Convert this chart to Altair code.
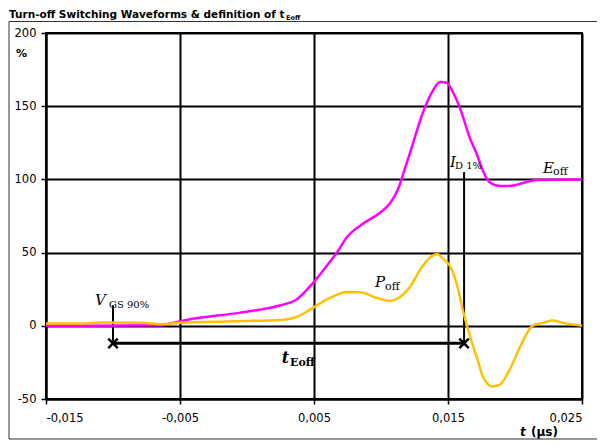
import altair as alt
import pandas as pd

# ---- data ----
# E_off curve (magenta), time in µs, value in %
e_t = [-0.015, -0.0065, -0.0055, -0.0045, -0.0005, 0.0025, 0.0037, 0.0049, 0.0057,
       0.0067, 0.0075, 0.0087, 0.0099, 0.0107, 0.0113, 0.0117, 0.0124, 0.0131,
       0.0139, 0.0144, 0.0149, 0.0154, 0.0160, 0.0166, 0.0172, 0.0176, 0.0181,
       0.0189, 0.0196, 0.0206, 0.0216, 0.025]
e_v = [0, 0.3, 2, 4, 9, 14, 18, 29, 38,
       50, 61, 70, 77, 84, 94, 105, 125, 145,
       161, 166.5, 166, 159, 146, 129, 116, 106, 98,
       95.5, 95.5, 97.5, 99.6, 100]

# P_off curve (yellow)
p_t = [-0.015, -0.0125, -0.0108, -0.0078, -0.0065, -0.005, -0.0015, 0.0025, 0.0037,
       0.0047, 0.0054, 0.0062, 0.0074, 0.0084, 0.0097, 0.0107, 0.0113, 0.0122,
       0.0129, 0.0137, 0.0142, 0.0146, 0.0152, 0.0157, 0.0161, 0.0165, 0.0172,
       0.0176, 0.0183, 0.0189, 0.0196, 0.0204, 0.0213, 0.0221, 0.0228, 0.0236, 0.025]
p_v = [1.5, 1.5, 2.3, 2, 1, 2, 3, 4, 6,
       11, 15, 19, 23, 23, 19, 17, 19, 27,
       38, 47, 49, 46, 40, 27, 11, -2.7, -23,
       -34.5, -41.5, -40, -30, -14, 0, 2, 3.6, 2, 0]

x_ticks = [-0.015, -0.005, 0.005, 0.015, 0.025]
y_ticks = [-50, 0, 50, 100, 150, 200]

# annotation anchors (µs, %)
t_vgs = -0.0100
t_id = 0.0162
v_bar = -12
v_vgs_top = 14
v_id_top = 105

MAG = "#FF00FF"
YEL = "#FFC000"

curves = pd.concat([
    pd.DataFrame({"t": e_t, "v": e_v, "s": "E_off"}),
    pd.DataFrame({"t": p_t, "v": p_v, "s": "P_off"}),
])

xs = alt.Scale(domain=[-0.015, 0.025], nice=False, zero=False)
ys = alt.Scale(domain=[-50, 200], nice=False, zero=False)

x_axis = alt.Axis(values=x_ticks, title=None, grid=True, labelPadding=8,
                  labelExpr="(datum.value < 0 ? '-' : '') + replace(format(abs(datum.value), '.3f'), '.', ',')")
y_axis = alt.Axis(values=y_ticks, title=None, grid=True, labelPadding=5,
                  labelExpr="datum.value < 0 ? '-' + format(-datum.value, 'd') : format(datum.value, 'd')")

lines = alt.Chart(curves).mark_line(strokeWidth=2.5, interpolate="monotone").encode(
    x=alt.X("t:Q", scale=xs, axis=x_axis),
    y=alt.Y("v:Q", scale=ys, axis=y_axis),
    color=alt.Color("s:N", scale=alt.Scale(domain=["E_off", "P_off"], range=[MAG, YEL]), legend=None),
)

one = pd.DataFrame({"d": [0]})

hbar = alt.Chart(pd.DataFrame({"a": [t_vgs], "b": [t_id], "y": [v_bar]})).mark_rule(
    color="black", strokeWidth=3).encode(
    x=alt.X("a:Q", scale=xs), x2="b:Q", y=alt.Y("y:Q", scale=ys))

vbars = alt.Chart(pd.DataFrame({"x": [t_vgs, t_id], "y1": [v_bar, v_bar],
                                "y2": [v_vgs_top, v_id_top]})).mark_rule(
    color="black", strokeWidth=2).encode(
    x=alt.X("x:Q", scale=xs), y=alt.Y("y1:Q", scale=ys), y2="y2:Q")

crosses = alt.Chart(pd.DataFrame({"x": [t_vgs, t_id], "y": [v_bar, v_bar]})).mark_point(
    shape="M-1,-1L1,1M-1,1L1,-1", size=90, strokeWidth=2.5, color="black",
    filled=False, opacity=1).encode(
    x=alt.X("x:Q", scale=xs), y=alt.Y("y:Q", scale=ys))


def dlabel(txt, t, v, size, font="DejaVu Serif", style="italic", weight="normal"):
    return alt.Chart(one).mark_text(
        text=txt, align="left", baseline="alphabetic", font=font, fontSize=size,
        fontStyle=style, fontWeight=weight, color="black").encode(
        x=alt.datum(t), y=alt.datum(v))


def plabel(txt, x, y, size, font="DejaVu Sans", style="normal", weight="bold"):
    return alt.Chart(one).mark_text(
        text=txt, align="left", baseline="alphabetic", font=font, fontSize=size,
        fontStyle=style, fontWeight=weight, color="black").encode(
        x=alt.value(x), y=alt.value(y))


texts = [
    dlabel("V", -0.01134, 14.3, 15),
    dlabel("GS 90%", -0.01030, 12.0, 10, style="normal"),
    dlabel("t", 0.0026, -25.2, 16, weight="bold"),
    dlabel("Eoff", 0.00321, -27.6, 11, style="normal", weight="bold"),
    dlabel("I", 0.01515, 108.5, 15),
    dlabel("D 1%", 0.01552, 106.8, 10, style="normal"),
    dlabel("E", 0.02209, 104.4, 15),
    dlabel("off", 0.02284, 102.7, 11, style="normal"),
    dlabel("P", 0.00955, 26.6, 15),
    dlabel("off", 0.0103, 24.6, 11, style="normal"),
    plabel("Turn-off Switching Waveforms & definition of t", -37, -15, 10.5),
    plabel("Eoff", 240, -13.5, 6.5),
    plabel("%", -30, 24, 11),
    plabel("t", 474, 403, 12, style="italic"),
    plabel("(µs)", 485, 403, 12),
]

frame = [
    alt.Chart(one).mark_rule(color="#333333", strokeWidth=1).encode(
        x=alt.value(-37), x2=alt.value(551), y=alt.value(-11.5)),
    alt.Chart(one).mark_rule(color="#333333", strokeWidth=1).encode(
        x=alt.value(-37), x2=alt.value(551), y=alt.value(406)),
    alt.Chart(one).mark_rule(color="#333333", strokeWidth=1).encode(
        x=alt.value(-37), y=alt.value(-11.5), y2=alt.value(406)),
]

chart = alt.layer(hbar, vbars, crosses, lines, *texts, *frame).properties(
    width=536, height=366,
    autosize=alt.AutoSizeParams(type="none"),
    padding={"left": 38, "top": 25, "right": 15, "bottom": 41},
    background="white",
).configure_view(stroke="black", strokeWidth=2).configure_axis(
    gridColor="black", gridWidth=2, gridOpacity=1,
    domainColor="black", domainWidth=2,
    tickColor="black", tickWidth=1.5, tickSize=5,
    labelFont="DejaVu Sans", labelFontSize=11.5, labelColor="black",
)

chart.save("out.html", embed_options={"renderer": "svg", "actions": False})
